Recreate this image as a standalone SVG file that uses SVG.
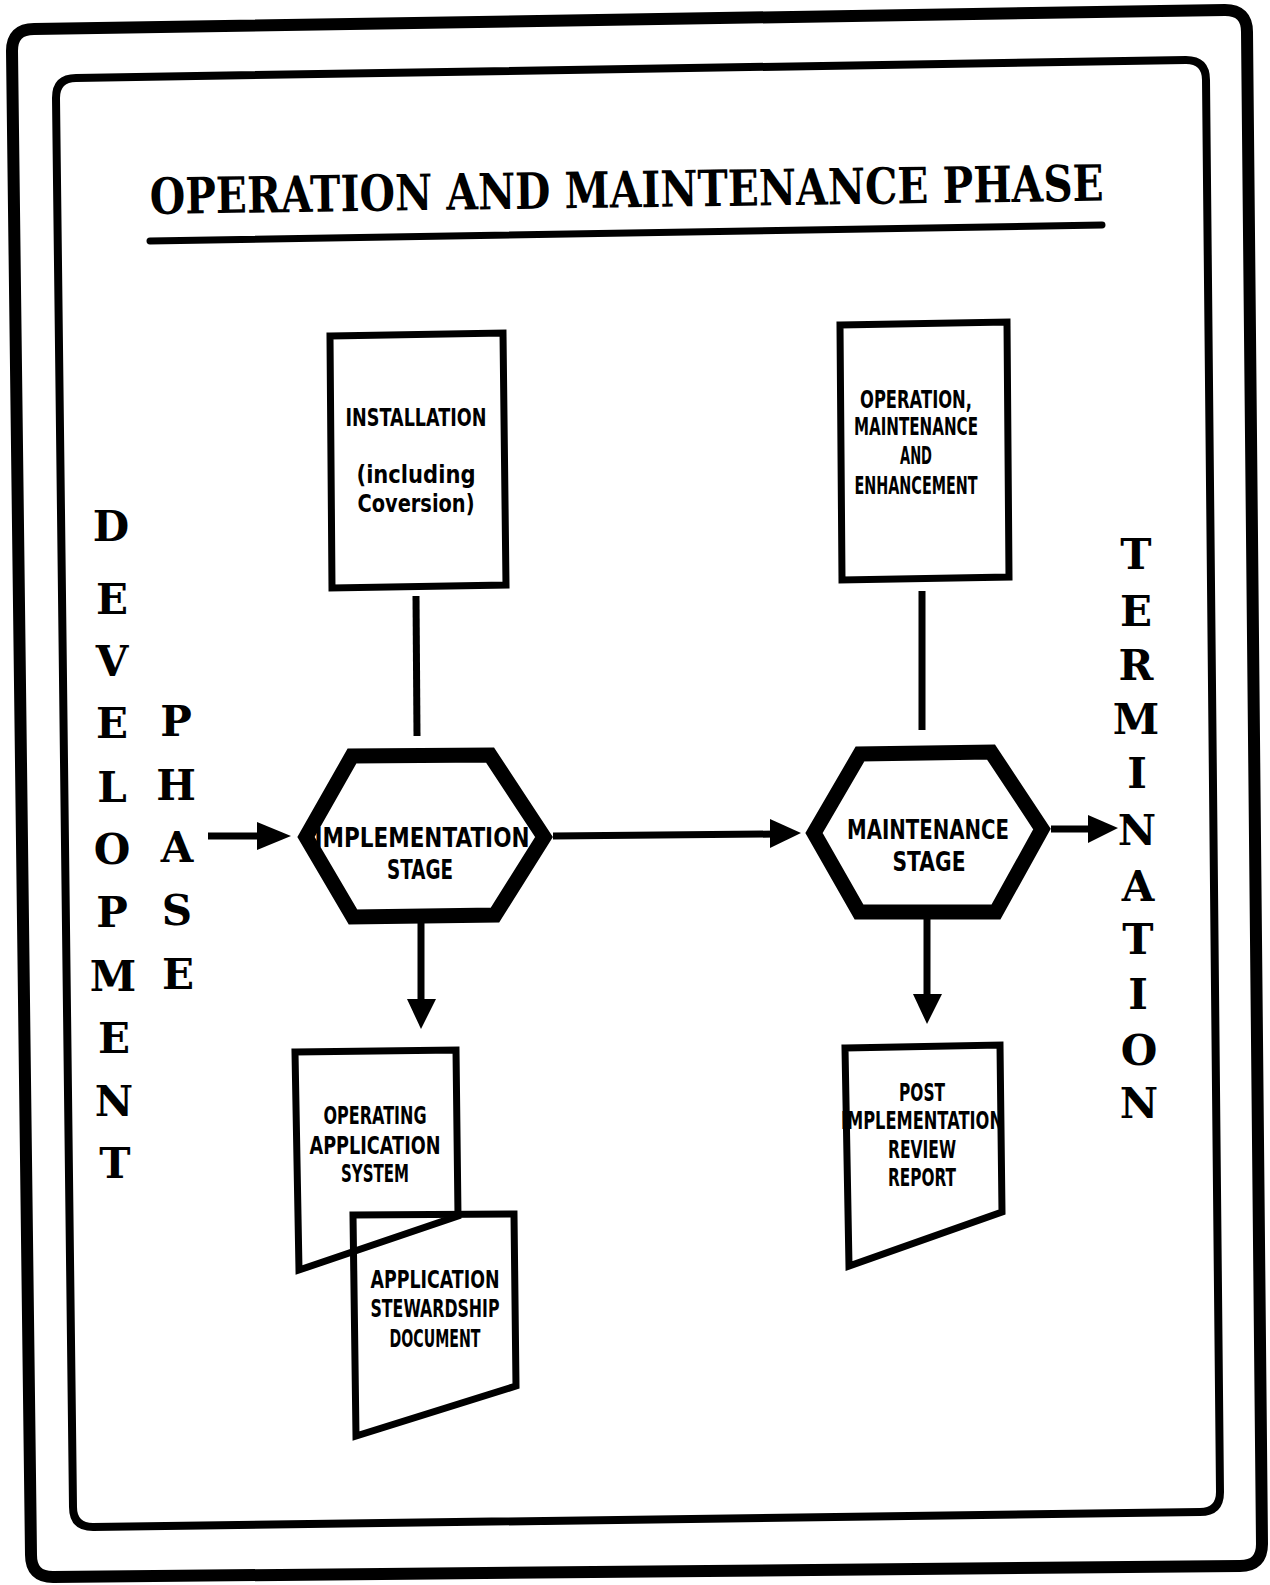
<svg xmlns="http://www.w3.org/2000/svg" width="1270" height="1585" viewBox="0 0 1270 1585">
  <style>
    .frame { fill: none; stroke: #000; stroke-linejoin: round; }
    .box { fill: none; stroke: #000; stroke-width: 7; stroke-linejoin: miter; }
    .hex { fill: none; stroke: #000; stroke-width: 15; stroke-linejoin: miter; }
    .line { fill: none; stroke: #000; stroke-width: 7; }
    .head { fill: #000; stroke: none; }
    .lbl { font-family: "DejaVu Sans", "Liberation Sans", sans-serif; font-weight: bold; font-size: 24px; fill: #000; text-anchor: middle; }
    .hlbl { font-family: "DejaVu Sans", "Liberation Sans", sans-serif; font-weight: bold; font-size: 27px; fill: #000; text-anchor: middle; }
    .side { font-family: "DejaVu Serif", "Liberation Serif", serif; font-weight: bold; font-size: 42px; fill: #000; text-anchor: middle; }
    .title { font-family: "DejaVu Serif", "Liberation Serif", serif; font-weight: bold; font-size: 50px; fill: #000; }
  </style>

  <!-- page borders -->
  <g id="borders">
    <path class="frame" stroke-width="12" d="M 12,51 Q 12,29 34,29 L 1225,10 Q 1247,10 1247,32 L 1262,1544 Q 1262,1566 1240,1566 L 53,1577 Q 31,1577 31,1555 Z"/>
    <path class="frame" stroke-width="8" d="M 56,98 Q 56,78 76,78 L 1186,60 Q 1206,60 1206,80 L 1220,1492 Q 1220,1512 1200,1512 L 93,1527 Q 73,1527 73,1507 Z"/>
  </g>

  <!-- heading -->
  <g id="title">
    <text class="title" x="150" y="214" textLength="954" lengthAdjust="spacingAndGlyphs" transform="rotate(-0.8 150 214)">OPERATION AND MAINTENANCE PHASE</text>
    <line x1="150" y1="241" x2="1102" y2="225" stroke="#000" stroke-width="7" stroke-linecap="round"/>
  </g>

  <!-- side captions -->
  <g id="development-phase">
    <text class="side" x="111" y="541">D</text>
    <text class="side" x="112" y="614">E</text>
    <text class="side" x="112" y="676">V</text>
    <text class="side" x="112" y="738">E</text>
    <text class="side" x="112" y="802">L</text>
    <text class="side" x="112" y="864">O</text>
    <text class="side" x="112" y="927">P</text>
    <text class="side" x="113" y="991">M</text>
    <text class="side" x="114" y="1053">E</text>
    <text class="side" x="114" y="1116">N</text>
    <text class="side" x="115" y="1178">T</text>
    <text class="side" x="176" y="736">P</text>
    <text class="side" x="176" y="800">H</text>
    <text class="side" x="177" y="862">A</text>
    <text class="side" x="177" y="925">S</text>
    <text class="side" x="178" y="989">E</text>
  </g>

  <g id="termination">
    <text class="side" x="1136" y="569">T</text>
    <text class="side" x="1136" y="626">E</text>
    <text class="side" x="1136" y="680">R</text>
    <text class="side" x="1136" y="734">M</text>
    <text class="side" x="1137" y="788">I</text>
    <text class="side" x="1137" y="845">N</text>
    <text class="side" x="1138" y="901">A</text>
    <text class="side" x="1138" y="954">T</text>
    <text class="side" x="1138" y="1009">I</text>
    <text class="side" x="1139" y="1065">O</text>
    <text class="side" x="1139" y="1118">N</text>
  </g>

  <!-- connectors -->
  <g id="connectors">
    <line class="line" x1="416" y1="596" x2="417" y2="736"/>
    <line class="line" x1="922" y1="591" x2="922" y2="730"/>
    <line class="line" x1="208" y1="836" x2="262" y2="836"/>
    <polygon class="head" points="257,822 291,836 257,850"/>
    <line class="line" x1="553" y1="836" x2="776" y2="834"/>
    <polygon class="head" points="770,819 801,833 770,848"/>
    <line class="line" x1="1051" y1="829" x2="1092" y2="829"/>
    <polygon class="head" points="1088,815 1118,828 1088,843"/>
    <line class="line" x1="421" y1="923" x2="421" y2="1002"/>
    <polygon class="head" points="407,999 436,999 421,1029"/>
    <line class="line" x1="927" y1="918" x2="927" y2="997"/>
    <polygon class="head" points="913,994 942,994 927,1024"/>
  </g>

  <g id="installation">
    <polygon class="box" points="330,336 503,333 506,585 332,588"/>
    <text class="lbl" x="416" y="426" textLength="141" lengthAdjust="spacingAndGlyphs">INSTALLATION</text>
    <text class="lbl" x="416" y="483" textLength="119" lengthAdjust="spacingAndGlyphs">(including</text>
    <text class="lbl" x="416" y="512" textLength="117" lengthAdjust="spacingAndGlyphs">Coversion)</text>
  </g>

  <g id="operation-maintenance">
    <polygon class="box" points="840,325 1007,322 1009,577 842,580"/>
    <text class="lbl" x="916" y="408" textLength="112" lengthAdjust="spacingAndGlyphs">OPERATION,</text>
    <text class="lbl" x="916" y="435" textLength="124" lengthAdjust="spacingAndGlyphs">MAINTENANCE</text>
    <text class="lbl" x="916" y="464" textLength="32" lengthAdjust="spacingAndGlyphs">AND</text>
    <text class="lbl" x="916" y="494" textLength="123" lengthAdjust="spacingAndGlyphs">ENHANCEMENT</text>
  </g>

  <g id="implementation-stage">
    <polygon class="hex" points="306,837 352,756 490,755 544,837 495,915 353,917"/>
    <text class="hlbl" x="422" y="847" textLength="215" lengthAdjust="spacingAndGlyphs">IMPLEMENTATION</text>
    <text class="hlbl" x="420" y="879" textLength="66" lengthAdjust="spacingAndGlyphs">STAGE</text>
  </g>

  <g id="maintenance-stage">
    <polygon class="hex" points="814,833 860,754 991,752 1042,829 996,912 859,912"/>
    <text class="hlbl" x="928" y="839" textLength="162" lengthAdjust="spacingAndGlyphs">MAINTENANCE</text>
    <text class="hlbl" x="929" y="871" textLength="73" lengthAdjust="spacingAndGlyphs">STAGE</text>
  </g>

  <g id="operating-system">
    <polygon class="box" points="295,1052 456,1050 458,1216 299,1270"/>
    <text class="lbl" x="375" y="1124" textLength="103" lengthAdjust="spacingAndGlyphs">OPERATING</text>
    <text class="lbl" x="375" y="1154" textLength="131" lengthAdjust="spacingAndGlyphs">APPLICATION</text>
    <text class="lbl" x="375" y="1182" textLength="68" lengthAdjust="spacingAndGlyphs">SYSTEM</text>
  </g>

  <g id="stewardship-document">
    <polygon class="box" points="353,1215 514,1214 516,1386 356,1436"/>
    <text class="lbl" x="435" y="1288" textLength="129" lengthAdjust="spacingAndGlyphs">APPLICATION</text>
    <text class="lbl" x="435" y="1317" textLength="129" lengthAdjust="spacingAndGlyphs">STEWARDSHIP</text>
    <text class="lbl" x="435" y="1347" textLength="91" lengthAdjust="spacingAndGlyphs">DOCUMENT</text>
  </g>

  <g id="review-report">
    <polygon class="box" points="845,1048 1000,1045 1002,1212 849,1266"/>
    <text class="lbl" x="922" y="1101" textLength="46" lengthAdjust="spacingAndGlyphs">POST</text>
    <text class="lbl" x="922" y="1129" textLength="162" lengthAdjust="spacingAndGlyphs">IMPLEMENTATION</text>
    <text class="lbl" x="922" y="1158" textLength="68" lengthAdjust="spacingAndGlyphs">REVIEW</text>
    <text class="lbl" x="922" y="1186" textLength="68" lengthAdjust="spacingAndGlyphs">REPORT</text>
  </g>
</svg>
